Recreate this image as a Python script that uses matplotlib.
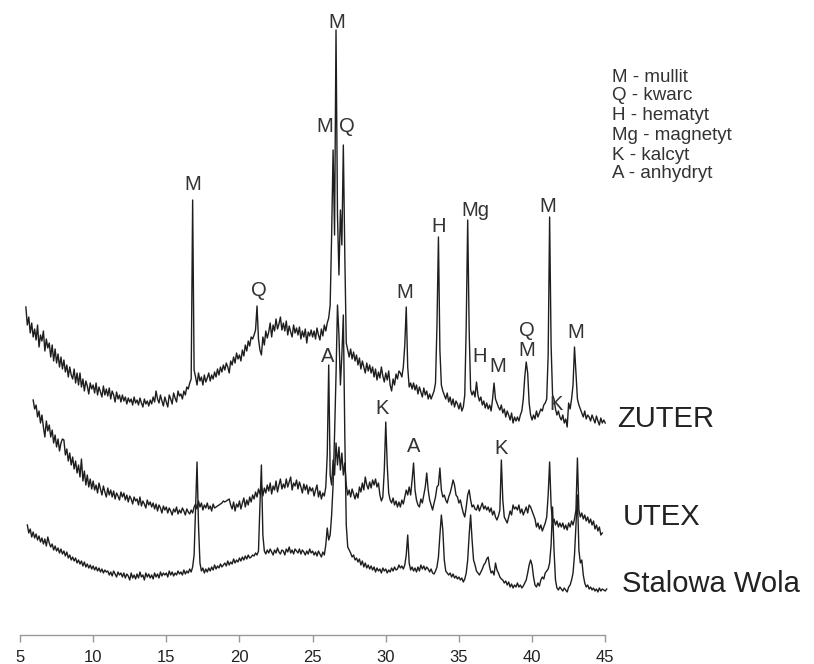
import numpy as np
import matplotlib.pyplot as plt

plt.rcParams['font.family'] = ['Liberation Sans', 'DejaVu Sans']

# scan step in degrees 2-theta
STEP = 0.1

# ZUTER, first point at 5.4 deg
zuter_start = 5.4
zuter = [
    328, 310, 318, 302, 312, 298,
    306, 295, 310, 288, 300, 294, 304, 284, 296, 287,
    292, 278, 290, 274, 286, 272, 281, 268, 278, 266,
    275, 263, 270, 258, 268, 260, 256, 266, 252, 262,
    250, 262, 248, 256, 244, 254, 249, 241, 252, 246,
    250, 242, 252, 240, 248, 243, 238, 249, 240, 246,
    239, 247, 236, 244, 240, 233, 243, 236, 240, 233,
    240, 234, 238, 231, 237, 233, 236, 230, 238, 232,
    235, 230, 237, 232, 228, 236, 231, 234, 229, 235,
    231, 238, 233, 244, 236, 232, 240, 234, 229, 238,
    233, 228, 240, 236, 231, 242, 237, 233, 244, 239,
    241, 236, 244, 240, 248, 246, 252, 256, 435, 265,
    258, 250, 262, 254, 258, 250, 260, 253, 257, 262,
    254, 260, 256, 263, 258, 266, 260, 268, 263, 270,
    265, 272, 268, 262, 274, 270, 278, 272, 282, 276,
    280, 274, 285, 279, 290, 284, 294, 289, 298, 296,
    300, 305, 329, 296, 285, 280, 298, 290, 304, 297,
    303, 312, 298, 310, 304, 316, 306, 311, 318, 305,
    312, 304, 314, 300, 309, 303, 298, 310, 302, 307,
    300, 308, 296, 304, 298, 306, 292, 303, 299, 305,
    298, 304, 296, 307, 300, 295, 306, 299, 310, 304,
    312, 317, 330, 400, 485, 400, 605, 420, 360, 425,
    390, 490, 380, 292, 285, 278, 286, 276, 283, 274,
    280, 270, 277, 266, 274, 268, 262, 272, 264, 270,
    262, 268, 258, 266, 255, 263, 257, 268, 259, 253,
    262, 255, 264, 250, 244, 256, 250, 261, 256, 264,
    262, 258, 268, 290, 328, 268, 248, 252, 246, 252,
    245, 250, 241, 248, 243, 238, 247, 240, 244, 236,
    241, 236, 240, 244, 252, 310, 398, 285, 250, 244,
    240, 236, 242, 233, 238, 230, 236, 228, 234, 231,
    226, 232, 224, 228, 240, 310, 415, 305, 245, 240,
    244, 238, 253, 240, 234, 238, 230, 234, 227, 232,
    226, 230, 224, 236, 252, 236, 232, 228, 225, 230,
    222, 226, 218, 224, 220, 215, 222, 212, 218, 214,
    218, 214, 220, 224, 236, 258, 273, 262, 232, 220,
    215, 220, 216, 224, 218, 222, 226, 224, 230, 232,
    236, 280, 418, 290, 240, 236, 226, 220, 224, 218,
    215, 220, 212, 216, 208, 232, 226, 236, 250, 288,
    262, 236, 230, 226, 222, 218, 224, 216, 220, 218,
    214, 220, 216, 212, 219, 214, 210, 217, 212, 215,
    212,
]

# UTEX, first point at 5.9 deg
utex_start = 5.9
utex = [
    235,
    226, 230, 218, 224, 212, 220, 208, 198, 214, 204,
    210, 198, 205, 192, 200, 188, 196, 184, 192, 196,
    195, 180, 186, 174, 182, 170, 178, 166, 174, 162,
    170, 158, 176, 154, 164, 150, 160, 148, 156, 146,
    154, 145, 150, 142, 152, 146, 140, 149, 143, 138,
    147, 140, 145, 138, 144, 136, 142, 139, 135, 143,
    138, 142, 135, 140, 133, 139, 136, 131, 138, 134,
    136, 130, 138, 129, 134, 131, 127, 135, 130, 133,
    128, 132, 126, 131, 124, 130, 127, 122, 129, 125,
    128, 122, 127, 124, 120, 126, 123, 128, 121, 125,
    122, 127, 124, 120, 126, 123, 121, 125, 122, 128,
    131, 126, 134, 128, 132, 125, 130, 127, 132, 126,
    129, 124, 131, 127, 128, 129, 130, 131, 132, 134,
    133, 134, 135, 136, 130, 126, 133, 124, 131, 128,
    134, 126, 132, 137, 128, 135, 130, 138, 133, 140,
    136, 143, 138, 146, 141, 150, 139, 147, 142, 150,
    144, 152, 141, 149, 145, 154, 143, 150, 156, 146,
    151, 147, 156, 148, 153, 158, 145, 152, 149, 155,
    146, 153, 148, 142, 151, 145, 150, 141, 148, 144,
    147, 139, 145, 150, 138, 144, 136, 142, 139, 148,
    180, 270, 160, 150, 175, 160, 192, 170, 188, 165,
    182, 160, 172, 150, 140, 145, 138, 146, 141, 136,
    142, 137, 148, 143, 152, 145, 158, 150, 146, 153,
    147, 155, 150, 156, 148, 152, 140, 134, 138, 165,
    213, 170, 142, 135, 132, 137, 130, 134, 128, 133,
    128, 135, 131, 138, 145, 140, 148, 140, 155, 172,
    145, 135, 130, 128, 136, 132, 140, 148, 162, 145,
    135, 130, 125, 132, 138, 148, 150, 167, 145, 138,
    140, 135, 132, 138, 142, 148, 155, 150, 140, 138,
    132, 135, 128, 122, 118, 128, 140, 145, 135, 128,
    130, 126, 125, 130, 124, 128, 132, 126, 129, 125,
    128, 123, 127, 120, 124, 118, 115, 119, 125, 175,
    135, 118, 115, 112, 118, 124, 120, 130, 126, 128,
    125, 130, 122, 126, 120, 124, 128, 122, 130, 128,
    124, 120, 116, 108, 112, 106, 110, 104, 108, 112,
    118, 140, 173, 130, 112, 116, 110, 114, 108, 112,
    108, 112, 106, 110, 105, 112, 108, 114, 110, 116,
    125, 177, 125, 118, 122, 116, 120, 114, 118, 112,
    116, 110, 114, 106, 110, 104, 108, 100, 102,
]

# Stalowa Wola, first point at 5.5 deg
sw_start = 5.5
stalowa = [
    110, 102, 106, 98, 103,
    97, 101, 95, 99, 93, 97, 91, 96, 89, 98,
    92, 88, 91, 85, 89, 84, 87, 82, 86, 81,
    84, 79, 83, 77, 80, 75, 78, 74, 77, 72,
    75, 71, 74, 69, 73, 68, 71, 67, 70, 66,
    69, 65, 68, 64, 67, 63, 66, 62, 65, 63,
    64, 60, 63, 59, 64, 61, 58, 63, 60, 62,
    58, 62, 57, 61, 59, 55, 62, 57, 60, 56,
    61, 57, 63, 58, 60, 55, 62, 58, 61, 57,
    60, 56, 62, 58, 61, 57, 63, 59, 62, 60,
    62, 58, 64, 60, 63, 59, 62, 60, 64, 61,
    63, 60, 65, 61, 64, 62, 66, 63, 68, 80,
    125, 173, 110, 72, 64, 67, 62, 66, 63, 67,
    64, 68, 65, 70, 66, 69, 67, 71, 68, 70,
    72, 69, 74, 70, 73, 71, 76, 72, 75, 73,
    77, 74, 78, 75, 79, 76, 80, 77, 78, 80,
    79, 82, 80, 84, 130, 170, 100, 84, 81, 85,
    82, 86, 83, 80, 85, 82, 87, 83, 81, 85,
    84, 80, 86, 83, 88, 82, 85, 81, 86, 84,
    82, 86, 81, 85, 83, 80, 84, 81, 86, 82,
    84, 80, 83, 79, 84, 81, 78, 83, 80, 90,
    107, 95, 100, 120, 150, 200, 260, 330, 300, 250,
    280, 320, 200, 110, 88, 85, 82, 78, 80, 75,
    77, 73, 76, 70, 74, 68, 72, 67, 70, 66,
    69, 65, 68, 63, 67, 64, 66, 62, 67, 64,
    66, 62, 65, 63, 67, 64, 68, 65, 66, 70,
    67, 69, 66, 70, 80, 100, 72, 65, 68, 64,
    67, 63, 68, 64, 70, 66, 69, 65, 68, 66,
    63, 66, 62, 61, 64, 68, 78, 100, 120, 105,
    75, 64, 62, 60, 62, 58, 61, 57, 59, 56,
    58, 55, 57, 53, 56, 62, 75, 100, 120, 95,
    75, 70, 64, 62, 60, 63, 66, 70, 72, 76,
    78, 68, 62, 64, 60, 72, 65, 62, 58, 56,
    55, 52, 54, 50, 53, 48, 51, 47, 50, 48,
    52, 48, 50, 47, 49, 52, 55, 62, 70, 75,
    70, 58, 50, 48, 52, 49, 55, 58, 56, 62,
    64, 66, 72, 90, 128, 85, 55, 47, 45, 48,
    46, 44, 47, 45, 43, 48, 50, 55, 62, 80,
    110, 140, 85, 72, 75, 60, 52, 48, 50, 46,
    48, 45, 47, 44, 46, 43, 47, 44, 46, 45,
    44, 46,
]

# phase marks above the peaks
peak_marks = ["M", "Q", "M", "M", "Q", "A", "M", "H", "Mg", "H", "M",
              "Q", "M", "M", "K", "M", "K", "A", "K"]
peak_mark_tt = [16.83, 21.34, 26.67, 25.85, 27.35, 26.05, 31.3, 33.64, 36.1,
                36.44, 37.67, 39.66, 39.66, 41.1, 41.64, 43.0, 29.75, 31.93, 37.9]
peak_mark_y = [450, 344, 613, 508, 508, 278, 342, 408, 425,
               278, 269, 305, 284, 429, 231, 302, 227, 188, 187]

phases = ["M - mullit", "Q - kwarc", "H - hematyt", "Mg - magnetyt",
          "K - kalcyt", "A - anhydryt"]
samples = ["ZUTER", "UTEX", "Stalowa Wola"]
ticks = [5, 10, 15, 20, 25, 30, 35, 40, 45]

fig = plt.figure(figsize=(8.14, 6.64), dpi=100)
ax = fig.add_axes([0, 0, 1, 1])

for start, vals in [(zuter_start, zuter), (utex_start, utex), (sw_start, stalowa)]:
    tt = start + STEP * np.arange(len(vals))
    ax.plot(tt, vals, color='#1e1e1e', lw=1.0)

ax.set_xlim(3.633, 59.27)
ax.set_ylim(-29, 635)

for s in ['top', 'left', 'right']:
    ax.spines[s].set_visible(False)
ax.spines['bottom'].set_position(('data', 0))
ax.spines['bottom'].set_bounds(5, 45)
ax.spines['bottom'].set_color('#999999')
ax.spines['bottom'].set_linewidth(1.0)
ax.set_xticks(ticks)
ax.set_xticklabels([str(t) for t in ticks])
ax.tick_params(axis='x', direction='out', length=5, width=1.0, color='#999999',
               labelsize=12, labelcolor='#222222', pad=5.5)
ax.set_yticks([])
ax.patch.set_visible(False)

for lab, t, y in zip(peak_marks, peak_mark_tt, peak_mark_y):
    ax.text(t, y, lab, ha='center', va='center', fontsize=14.5, color='#333333')

# phase key, top right
key_y = [77, 96, 115, 135, 155, 174]
for txt, py in zip(phases, key_y):
    fig.text(612 / 814, 1 - py / 664, txt, ha='left', va='center',
             fontsize=13.5, color='#333333')

# sample names at the end of each trace
name_xy = [(617, 419), (623, 517), (622, 584)]
for txt, (px, py) in zip(samples, name_xy):
    fig.text(px / 814, 1 - py / 664, txt, ha='left', va='center',
             fontsize=21, color='#222222')

fig.savefig('out.png', dpi=100)
